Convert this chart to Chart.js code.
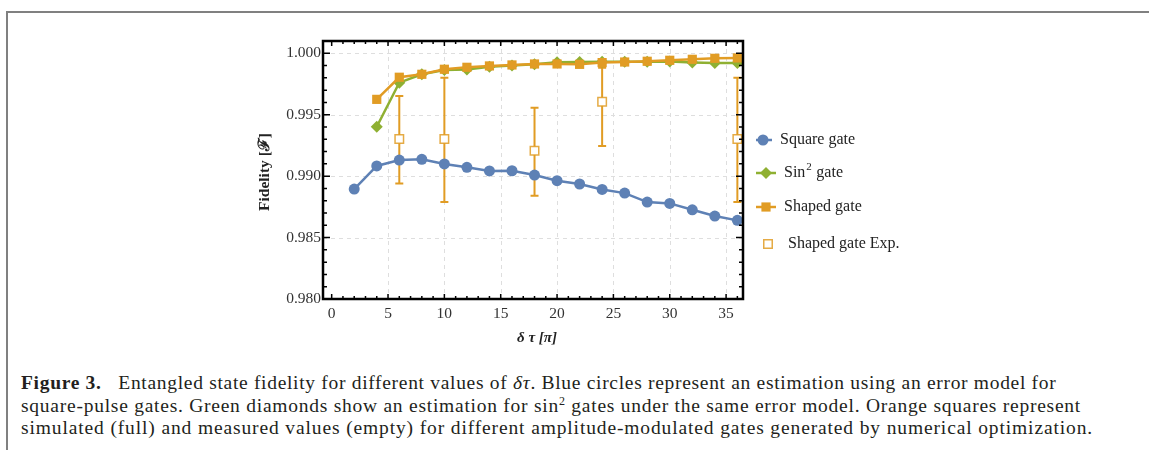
<!DOCTYPE html>
<html><head><meta charset="utf-8">
<script src="https://cdn.jsdelivr.net/npm/chart.js@4.4.0/dist/chart.umd.min.js"></script>
<style>
html,body{margin:0;padding:0;background:#fff;}
body{width:1149px;height:450px;position:relative;overflow:hidden;}
#frame{position:absolute;left:6px;top:11px;right:-4px;bottom:-4px;border-top:2px solid #808080;border-left:2px solid #808080;}
#wrap{position:absolute;left:0;top:0;width:1149px;height:360px;}
#caption{position:absolute;left:21px;top:372px;font-family:"Liberation Serif",serif;font-size:19.5px;color:#231f20;line-height:22.5px;}
.line{white-space:nowrap;display:block;width:max-content;}
</style></head>
<body>
<div id="frame"></div>
<div id="wrap"><canvas id="c" width="1149" height="360"></canvas></div>
<div id="caption">
<span class="line" data-w="1034"><b>Figure 3.</b>&nbsp;&nbsp; Entangled state fidelity for different values of <i>δτ</i>. Blue circles represent an estimation using an error model for</span>
<span class="line" data-w="1060">square-pulse gates. Green diamonds show an estimation for sin<sup style="font-size:12px;line-height:0">2</sup> gates under the same error model. Orange squares represent</span>
<span class="line" data-w="1072">simulated (full) and measured values (empty) for different amplitude-modulated gates generated by numerical optimization.</span>
</div>
<script>
// ---- data ----
const squareX = [2,4,6,8,10,12,14,16,18,20,22,24,26,28,30,32,34,36];
const squareY = [0.98895,0.99083,0.99131,0.99137,0.99099,0.99072,0.99042,0.99044,0.99009,0.98963,0.98936,0.98892,0.98862,0.98789,0.98778,0.98726,0.98675,0.98640];
const sin2X = [4,6,8,10,12,14,16,18,20,22,24,26,28,30,32,34,36];
const sin2Y = [0.99402,0.99761,0.99829,0.99864,0.99868,0.99890,0.99900,0.99910,0.99928,0.99930,0.99932,0.99932,0.99932,0.99933,0.99925,0.99920,0.99920];
const shapedX = [4,6,8,10,12,14,16,18,20,22,24,26,28,30,32,34,36];
const shapedY = [0.99625,0.99805,0.99829,0.99870,0.99886,0.99897,0.99905,0.99913,0.99913,0.99910,0.99924,0.99929,0.99935,0.99943,0.99951,0.99959,0.99962];
const expX = [6,10,18,24,36];
const expY = [0.99302,0.99302,0.99207,0.99606,0.99302];
const expLow = [0.98941,0.98789,0.98841,0.99245,0.98789];
const expHigh = [0.99652,0.99801,0.99557,0.99883,0.99801];
const seriesLabels = ['Square gate','Sin2 gate','Shaped gate','Shaped gate Exp.'];
const xMajorTicks = [0,5,10,15,20,25,30,35];
const yMajorTicks = [0.980,0.985,0.990,0.995,1.000];
const xTitle = 'δ τ [π]';
const yTitle = 'Fidelity [ℱ]';

const BLUE='#5e81b5', GREEN='#8fb032', ORANGE='#e19c24';
const pts = (xs, ys) => xs.map((x,i)=>({x:x, y:ys[i]}));

// caption fitting (letter-spacing)
(function(){
  document.querySelectorAll('#caption .line').forEach(el=>{
    const target = +el.dataset.w;
    const w = el.getBoundingClientRect().width;
    const n = el.textContent.replace(/\s+/g,' ').trim().length;
    el.style.letterSpacing = ((target - w)/n).toFixed(3)+'px';
  });
})();

const decor = {
  id:'decor',
  beforeDatasetsDraw(chart){
    const {ctx, chartArea:a, scales:{x,y}} = chart;
    ctx.save();
    ctx.strokeStyle = '#dedede'; ctx.lineWidth = 1; ctx.setLineDash([4,4]);
    xMajorTicks.forEach(v=>{ if(v===0) return; const px=Math.round(x.getPixelForValue(v))+0.5; ctx.beginPath(); ctx.moveTo(px,a.top); ctx.lineTo(px,a.bottom); ctx.stroke(); });
    yMajorTicks.forEach(v=>{ if(v===0.980) return; const py=Math.round(y.getPixelForValue(v))+0.5; ctx.beginPath(); ctx.moveTo(a.left,py); ctx.lineTo(a.right,py); ctx.stroke(); });
    ctx.setLineDash([]);
    // error bars
    ctx.strokeStyle = ORANGE; ctx.lineWidth = 2;
    expX.forEach((xv,i)=>{
      const px = x.getPixelForValue(xv), p1 = y.getPixelForValue(expLow[i]), p2 = y.getPixelForValue(expHigh[i]);
      ctx.beginPath(); ctx.moveTo(px,p1); ctx.lineTo(px,p2);
      ctx.moveTo(px-4,p1); ctx.lineTo(px+4,p1); ctx.moveTo(px-4,p2); ctx.lineTo(px+4,p2); ctx.stroke();
    });
    ctx.restore();
  },
  afterDraw(chart){
    const {ctx, chartArea:a, scales:{x,y}} = chart;
    ctx.save();
    ctx.strokeStyle = '#000';
    // ticks
    ctx.lineWidth = 1.5;
    for(let v=0; v<=36; v++){
      const px = x.getPixelForValue(v); const L = (v%5===0)?5:3;
      ctx.beginPath(); ctx.moveTo(px,a.bottom); ctx.lineTo(px,a.bottom-L); ctx.moveTo(px,a.top); ctx.lineTo(px,a.top+L); ctx.stroke();
    }
    for(let k=0; k<=21; k++){
      const v = 0.980 + k*0.001; const py = y.getPixelForValue(v); const L = (k%5===0)?7:4;
      ctx.beginPath(); ctx.moveTo(a.left,py); ctx.lineTo(a.left+L,py); ctx.moveTo(a.right,py); ctx.lineTo(a.right-L,py); ctx.stroke();
    }
    ctx.lineWidth = 2.5;
    ctx.strokeRect(a.left, a.top, a.right-a.left, a.bottom-a.top);
    // axis titles
    ctx.fillStyle = '#222';
    ctx.font = 'bold italic 15px "Liberation Serif"';
    ctx.textAlign='center'; ctx.textBaseline='middle';
    ctx.fillText(xTitle, 537, 338);
    ctx.save(); ctx.translate(265,172); ctx.rotate(-Math.PI/2);
    ctx.font = 'bold 15.5px "Liberation Serif"';
    ctx.fillText(yTitle, 0, 0); ctx.restore();
    // legend
    const ds = chart.data.datasets;
    const ent = [
      {i:0, mx:763, y:140, l1:756, l2:772, tx:780},
      {i:1, mx:766, y:173, l1:756, l2:776, tx:784},
      {i:2, mx:766, y:207, l1:756, l2:776, tx:784},
      {i:3, mx:768, y:244, tx:788}
    ];
    ent.forEach(e=>{
      const d = ds[e.i];
      if(e.l1){ ctx.strokeStyle=d.borderColor; ctx.lineWidth=2.5; ctx.beginPath(); ctx.moveTo(e.l1,e.y); ctx.lineTo(e.l2,e.y); ctx.stroke(); }
      ctx.fillStyle = d.pointBackgroundColor || d.backgroundColor; ctx.strokeStyle = d.pointBorderColor || d.borderColor;
      ctx.lineWidth = d.pointBorderWidth||0;
      Chart.helpers.drawPoint(ctx, {pointStyle:d.pointStyle, radius:d.pointRadius, rotation:0, borderWidth:d.pointBorderWidth||0}, e.mx, e.y);
      ctx.fillStyle = '#222'; ctx.textAlign='left'; ctx.textBaseline='middle';
      ctx.font = '16px "Liberation Serif"';
      if(e.i===1){
        ctx.fillText('Sin', e.tx, e.y);
        const w = ctx.measureText('Sin').width;
        ctx.font = '11px "Liberation Serif"'; ctx.fillText('2', e.tx+w+1, e.y-6);
        ctx.font = '16px "Liberation Serif"'; ctx.fillText(' gate', e.tx+w+7, e.y);
      } else ctx.fillText(seriesLabels[e.i], e.tx, e.y);
    });
    ctx.restore();
  }
};

new Chart(document.getElementById('c'), {
  type:'line',
  data:{datasets:[
    {label:seriesLabels[0], data:pts(squareX,squareY), borderColor:BLUE, backgroundColor:BLUE, pointBackgroundColor:BLUE, borderWidth:2.5, pointRadius:5.5, pointStyle:'circle', pointBorderWidth:0, order:3},
    {label:seriesLabels[1], data:pts(sin2X,sin2Y), borderColor:GREEN, backgroundColor:GREEN, pointBackgroundColor:GREEN, borderWidth:2.5, pointRadius:6, pointStyle:'rectRot', pointBorderWidth:0, order:2},
    {label:seriesLabels[2], data:pts(shapedX,shapedY), borderColor:ORANGE, backgroundColor:ORANGE, pointBackgroundColor:ORANGE, borderWidth:2.5, pointRadius:6.5, pointStyle:'rect', pointBorderWidth:0, order:1},
    {label:seriesLabels[3], data:pts(expX,expY), showLine:false, borderColor:'rgba(225,156,36,0.85)', backgroundColor:'#fff', pointBackgroundColor:'#fff', pointBorderColor:'rgba(225,156,36,0.85)', pointRadius:6, pointStyle:'rect', pointBorderWidth:1.5, order:0}
  ]},
  options:{
    responsive:false, animation:false, devicePixelRatio:1,
    layout:{padding:{left:263, top:41, right:406, bottom:21}},
    plugins:{legend:{display:false}, tooltip:{enabled:false}},
    elements:{line:{tension:0}},
    scales:{
      x:{type:'linear', min:-0.77, max:36.5, grid:{display:false, drawTicks:false}, border:{display:false},
         afterFit:s=>{s.height=40;},
         afterBuildTicks:s=>{ s.ticks = xMajorTicks.map(v=>({value:v})); },
         ticks:{autoSkip:false, maxRotation:0, padding:6, color:'#333', font:{family:'Liberation Serif', size:15.5},
           callback:v=> String(Math.round(v))}},
      y:{type:'linear', min:0.98, max:1.001, grid:{display:false, drawTicks:false}, border:{display:false},
         afterFit:s=>{s.width=60;},
         afterBuildTicks:s=>{ s.ticks = yMajorTicks.map(v=>({value:v})); },
         ticks:{autoSkip:false, padding:2, color:'#333', font:{family:'Liberation Serif', size:15.5},
           callback:v=> v.toFixed(3)}}
    }
  },
  plugins:[decor]
});
</script>
</body></html>
